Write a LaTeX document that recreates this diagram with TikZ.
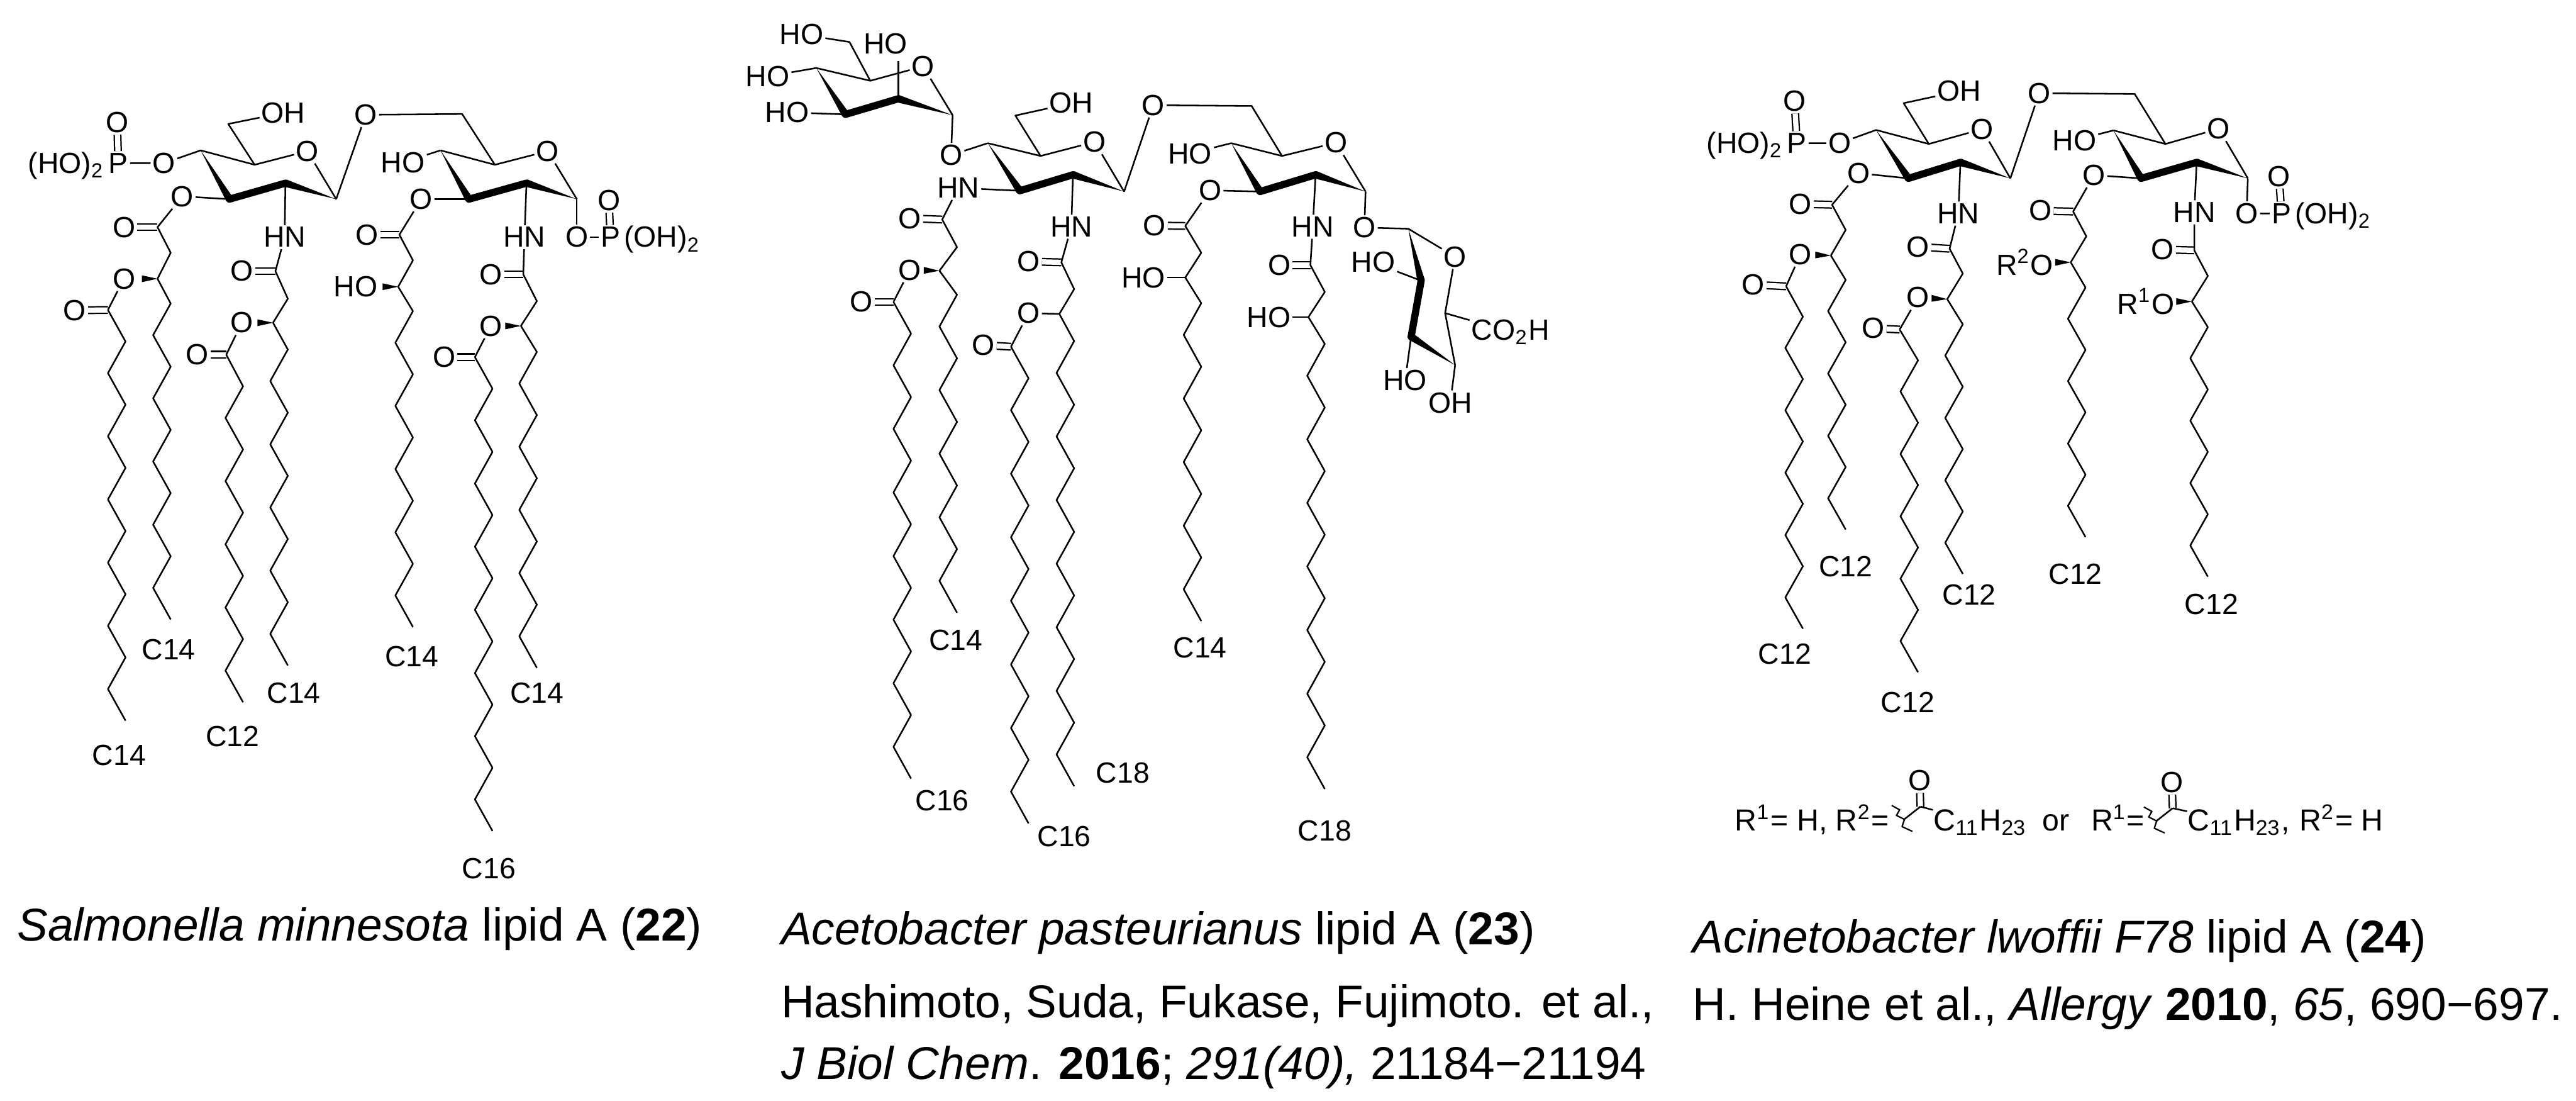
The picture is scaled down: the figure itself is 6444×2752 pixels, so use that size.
\documentclass[tikz,border=0pt]{standalone}
\usepackage{fontspec}
\setmainfont{Liberation Sans}
\usetikzlibrary{calc}

\tikzset{
  atom/.style={inner sep=0.3pt,font=\fontsize{7.3}{8}\selectfont},
  formula/.style={inner sep=0pt,anchor=base west,font=\fontsize{7.6}{8}\selectfont},
  caption/.style={inner sep=0pt,anchor=base west,font=\fontsize{11.5}{13}\selectfont},
  dbond/.style={double,double distance=1.3pt,line width=0.35pt},
  boldbond/.style={line width=1.8pt,line cap=round}
}

% wedge, thin at #1 and wide at #2
\newcommand{\wedgebond}[2]{\fill (#1) -- ($(#2)!0.95pt!90:(#1)$) -- ($(#2)!0.95pt!-90:(#1)$) -- cycle;}
% short stereo wedge from carbon #1 towards label #2
\newcommand{\stereobond}[2]{\fill (#1) -- ($(#1)!3.9pt!(#2)+(0,0.85pt)$) -- ($(#1)!3.9pt!(#2)+(0,-0.85pt)$) -- cycle;}
% ring: prefix, c4, c5, ring O, c1, c2, c3
\newcommand{\sugar}[7]{
  \coordinate (#1c4) at (#2);
  \coordinate (#1c5) at (#3);
  \node[atom] (#1o) at (#4) {O};
  \coordinate (#1c1) at (#5);
  \coordinate (#1c2) at (#6);
  \coordinate (#1c3) at (#7);
  \draw (#1c4) -- (#1c5) -- (#1o);
  \draw (#1o) -- (#1c1);
  \wedgebond{#1c4}{#1c3}
  \draw[boldbond] (#1c3) -- (#1c2);
  \wedgebond{#1c1}{#1c2}
}
% acyl head: name, carbonyl C, =O, next C, branch C; #6 is what it hangs on
\newcommand{\acyl}[6]{
  \coordinate (#1c) at (#2);
  \node[atom] (#1o) at (#3) {O};
  \coordinate (#1n) at (#4);
  \coordinate (#1s) at (#5);
  \draw[dbond] (#1c) -- (#1o);
  \draw (#6) -- (#1c) -- (#1n) -- (#1s);
}
% ester head: name, carbonyl C, =O; #4 is the O it hangs on
\newcommand{\ester}[4]{
  \coordinate (#1c) at (#2);
  \node[atom] (#1o) at (#3) {O};
  \draw[dbond] (#1c) -- (#1o);
  \draw (#4) -- (#1c);
}
% zigzag tail: [step], from, first x, first y, n
\newcommand{\lipchain}[5][79]{
  \draw (#2) -- (#3,#4) \foreach \k in {1,...,#5} { -- ({#3-44*mod(\k,2)},{#4+#1*\k}) };
}
% O=C with wavy bond: name, x, y
\newcommand{\acylR}[3]{
  \coordinate (#1c) at (#2,#3);
  \node[atom] (#1o) at ({#2-2},{#3-65}) {O};
  \draw[dbond] (#1c) -- (#1o);
  \coordinate (#1w) at ({#2-42},{#3+33});
  \draw (#1w) -- (#1c);
  \draw[line width=0.35pt] ({#2-72},{#3-3}) -- ({#2-52},{#3+8}) -- ({#2-60},{#3+22}) -- ({#2-40},{#3+32}) -- ({#2-46},{#3+50}) -- ({#2-20},{#3+62});
}

\begin{document}
\begin{tikzpicture}[x=0.1pt,y=0.1pt,yscale=-1,line width=0.4pt,line join=round]
\useasboundingbox (0,0) rectangle (6444,2752);

% Salmonella
\sugar{salA}{502,376}{637,412}{769,378}{841,498}{714,458}{574,498}
\sugar{salB}{1102,376}{1238,412}{1370,378}{1443,498}{1317,458}{1173,498}
\node[atom] (salP) at (296,408) {P};
\node[atom,anchor=base east] (salPh) at (salP.base west) {(HO)\textsubscript{2}};
\node[atom] (salPo) at (293,306) {O};
\node[atom] (salPe) at (410,408) {O};
\draw[dbond] (salP) -- (salPo);
\draw (salP) -- (salPe) -- (salAc4);
\coordinate (salAch) at (571,310);
\node[atom] (salAoh) at (709,282) {OH};
\draw (salAc5) -- (salAch) -- (salAoh);
\node[atom] (salL) at (915,287) {O};
\coordinate (salBch) at (1156,285);
\draw (salAc1) -- (salL) -- (salBch) -- (salBc5);
\node[atom] (salBho) at (1008,406) {HO};
\draw (salBho) -- (salBc4);
\node[atom] (salO1) at (456,491) {O};
\draw (salAc3) -- (salO1);
\acyl{salC1}{394,568}{310,568}{427,632}{394,697}{salO1}
\node[atom] (salO2) at (310,697) {O};
\stereobond{salC1s}{salO2}
\ester{salE1}{270,775}{187,776}{salO2}
\lipchain{salE1c}{314}{854}{12}
\lipchain{salC1s}{427}{759}{10}
\node[atom] (salN1) at (712,593) {HN};
\draw (salAc2) -- (salN1);
\acyl{salC2}{689,678}{605,678}{720,747}{683,807}{salN1}
\node[atom] (salO3) at (605,807) {O};
\stereobond{salC2s}{salO3}
\ester{salE2}{566,887}{494,887}{salO3}
\lipchain{salE2c}{608}{966}{10}
\lipchain{salC2s}{720}{874}{10}
\node[atom] (salO4) at (1054,498) {O};
\draw (salBc3) -- (salO4);
\acyl{salC3}{999,587}{918,587}{1033,651}{996,717}{salO4}
\node[atom] (salOh3) at (890,717) {HO};
\stereobond{salC3s}{salOh3}
\lipchain{salC3s}{1033}{778}{10}
\node[atom] (salN2) at (1312,593) {HN};
\draw (salBc2) -- (salN2);
\acyl{salC4}{1309,686}{1228,686}{1343,753}{1303,815}{salN2}
\node[atom] (salO5) at (1228,815) {O};
\stereobond{salC4s}{salO5}
\ester{salE4}{1188,893}{1111,893}{salO5}
\lipchain{salE4c}{1232}{972}{14}
\lipchain{salC4s}{1343}{880}{10}
\node[atom] (salO6) at (1443,593) {O};
\node[atom] (salQ) at (1527,593) {P};
\node[atom,anchor=base west] (salQh) at (salQ.base east) {(OH)\textsubscript{2}};
\node[atom] (salQo) at (1523,501) {O};
\draw (salBc1) -- (salO6) -- (salQ);
\draw[dbond] (salQ) -- (salQo);
\node[atom] at (422,1624) {C14};
\node[atom] at (735,1733) {C14};
\node[atom] at (582,1841) {C12};
\node[atom] at (298,1888) {C14};
\node[atom] at (1030,1642) {C14};
\node[atom] at (1343,1733) {C14};
\node[atom] at (1223,2172) {C16};
\node[caption] (capA) at (41,2352) {\textit{Salmonella minnesota} lipid A (\textbf{22})};

% Acetobacter
\sugar{aceM}{2042,170}{2177,202}{2309,166}{2383,288}{2247,247}{2115,286}
\sugar{aceA}{2471,358}{2603,390}{2738,355}{2812,479}{2684,437}{2551,477}
\sugar{aceB}{3080,358}{3207,390}{3342,357}{3416,479}{3291,437}{3152,479}
\node[atom] (aceMh1) at (2005,86) {HO};
\coordinate (aceMch) at (2125,105);
\draw (aceMh1) -- (aceMch) -- (aceMc5);
\node[atom] (aceMh2) at (1920,191) {HO};
\draw (aceMh2) -- (aceMc4);
\node[atom] (aceMh3) at (1969,281) {HO};
\draw (aceMh3) -- (aceMc3);
\node[atom] (aceMh4) at (2215,109) {HO};
\coordinate (aceMup) at (2247,152);
\draw (aceMc2) -- (aceMup);
\node[atom] (aceL1) at (2379,388) {O};
\draw (aceMc1) -- (aceL1) -- (aceAc4);
\coordinate (aceAch) at (2540,289);
\node[atom] (aceAoh) at (2680,258) {OH};
\draw (aceAc5) -- (aceAch) -- (aceAoh);
\node[atom] (aceL2) at (2885,263) {O};
\coordinate (aceBch) at (3131,265);
\draw (aceAc1) -- (aceL2) -- (aceBch) -- (aceBc5);
\node[atom] (aceBho) at (2977,384) {HO};
\draw (aceBho) -- (aceBc4);
\node[atom] (aceN1) at (2397,470) {HN};
\draw (aceAc3) -- (aceN1);
\acyl{aceC1}{2357,549}{2276,546}{2394,618}{2350,677}{aceN1}
\node[atom] (aceO2) at (2276,675) {O};
\stereobond{aceC1s}{aceO2}
\ester{aceE1}{2235,755}{2155,755}{aceO2}
\lipchain[79.5]{aceE1c}{2279}{834}{14}
\lipchain[79.5]{aceC1s}{2394}{737}{10}
\node[atom] (aceN2) at (2680,567) {HN};
\draw (aceAc2) -- (aceN2);
\acyl{aceC2}{2655,656}{2573,654}{2687,723}{2650,785}{aceN2}
\node[atom] (aceO3) at (2573,783) {O};
\draw (aceC2s) -- (aceO3);
\ester{aceE2}{2529,867}{2460,863}{aceO3}
\lipchain[79.5]{aceE2c}{2573}{946}{14}
\lipchain[79.5]{aceC2s}{2687}{853}{14}
\node[atom] (aceO4) at (3027,476) {O};
\draw (aceBc3) -- (aceO4);
\acyl{aceC3}{2965,565}{2888,564}{3005,632}{2965,694}{aceO4}
\node[atom] (aceOh3) at (2860,694) {HO};
\draw (aceC3s) -- (aceOh3);
\lipchain[79.5]{aceC3s}{3005}{758}{10}
\node[atom] (aceN3) at (3284,567) {HN};
\draw (aceBc2) -- (aceN3);
\acyl{aceC4}{3278,663}{3200,663}{3314,730}{3273,793}{aceN3}
\node[atom] (aceOh4) at (3174,793) {HO};
\draw (aceC4s) -- (aceOh4);
\lipchain[79.5]{aceC4s}{3314}{860}{14}
% Kdo ring
\node[atom] (aceO6) at (3413,569) {O};
\coordinate (kdoa) at (3523,572);
\coordinate (kdob) at (3555,702);
\coordinate (kdoc) at (3530,842);
\coordinate (kdod) at (3640,913);
\coordinate (kdoe) at (3615,783);
\node[atom] (kdoo) at (3640,642) {O};
\draw (aceBc1) -- (aceO6) -- (kdoa) -- (kdoo) -- (kdoe) -- (kdod);
\wedgebond{kdoa}{kdob}
\draw[boldbond] (kdob) -- (kdoc);
\wedgebond{kdod}{kdoc}
\node[atom] (kdoh1) at (3435,656) {HO};
\draw (kdoh1) -- (kdob);
\node[atom] (kdoh2) at (3515,951) {HO};
\draw (kdoc) -- (kdoh2);
\node[atom] (kdoh3) at (3628,1007) {OH};
\draw (kdod) -- (kdoh3);
\node[atom] (kdoco) at (3779,830) {CO\textsubscript{2}H};
\draw (kdoe) -- (kdoco);
\node[atom] at (2391,1600) {C14};
\node[atom] at (3002,1620) {C14};
\node[atom] at (2809,1933) {C18};
\node[atom] at (2357,2002) {C16};
\node[atom] at (2662,2092) {C16};
\node[atom] at (3314,2077) {C18};
\node[caption] (capB) at (1952,2362) {\textit{Acetobacter pasteurianus} lipid A (\textbf{23})};
\node[caption] (capBa) at (1952,2545) {Hashimoto, Suda, Fukase, Fujimoto. et al.,};
\node[caption] (capBb) at (1952,2699) {\textit{J Biol Chem}. \textbf{2016}; \textit{291(40),} 21184−21194};

% Acinetobacter
\sugar{acnA}{4693,325}{4825,360}{4958,323}{5029,446}{4904,406}{4774,446}
\sugar{acnB}{5287,326}{5417,360}{5550,322}{5623,446}{5495,406}{5356,446}
\node[atom] (acnP) at (4495,358) {P};
\node[atom,anchor=base east] (acnPh) at (acnP.base west) {(HO)\textsubscript{2}};
\node[atom] (acnPo) at (4489,253) {O};
\node[atom] (acnPe) at (4602,358) {O};
\draw[dbond] (acnP) -- (acnPo);
\draw (acnP) -- (acnPe) -- (acnAc4);
\coordinate (acnAch) at (4762,258);
\node[atom] (acnAoh) at (4901,228) {OH};
\draw (acnAc5) -- (acnAch) -- (acnAoh);
\node[atom] (acnL) at (5101,233) {O};
\coordinate (acnBch) at (5340,235);
\draw (acnAc1) -- (acnL) -- (acnBch) -- (acnBc5);
\node[atom] (acnBho) at (5189,351) {HO};
\draw (acnBho) -- (acnBc4);
\node[atom] (acnO1) at (4649,433) {O};
\draw (acnAc3) -- (acnO1);
\acyl{acnC1}{4583,512}{4504,510}{4617,575}{4580,639}{acnO1}
\node[atom] (acnO2) at (4504,636) {O};
\stereobond{acnC1s}{acnO2}
\ester{acnE1}{4468,716}{4386,712}{acnO2}
\lipchain[78]{acnE1c}{4510}{792}{10}
\lipchain[78]{acnC1s}{4617}{700}{8}
\node[atom] (acnN1) at (4899,534) {HN};
\draw (acnAc2) -- (acnN1);
\acyl{acnC2}{4877,622}{4798,617}{4910,684}{4871,748}{acnN1}
\node[atom] (acnO3) at (4798,744) {O};
\stereobond{acnC2s}{acnO3}
\ester{acnE2}{4752,824}{4686,821}{acnO3}
\lipchain[78]{acnE2c}{4798}{901}{10}
\lipchain[78]{acnC2s}{4910}{811}{8}
\node[atom] (acnO4) at (5238,438) {O};
\draw (acnBc3) -- (acnO4);
\acyl{acnC3}{5186,529}{5104,527}{5219,591}{5180,656}{acnO4}
\node[atom] (acnR2) at (5065,656) {R\textsuperscript{2}O};
\stereobond{acnC3s}{acnR2}
\lipchain[78]{acnC3s}{5217}{719}{8}
\node[atom] (acnN2) at (5489,531) {HN};
\draw (acnBc2) -- (acnN2);
\acyl{acnC4}{5489,626}{5410,624}{5523,690}{5483,754}{acnN2}
\node[atom] (acnR1) at (5368,754) {R\textsuperscript{1}O};
\stereobond{acnC4s}{acnR1}
\lipchain[78]{acnC4s}{5523}{818}{8}
\node[atom] (acnO6) at (5620,534) {O};
\node[atom] (acnQ) at (5707,534) {P};
\node[atom,anchor=base west] (acnQh) at (acnQ.base east) {(OH)\textsubscript{2}};
\node[atom] (acnQo) at (5701,441) {O};
\draw (acnBc1) -- (acnO6) -- (acnQ);
\draw[dbond] (acnQ) -- (acnQo);
\node[atom] at (4617,1417) {C12};
\node[atom] at (4926,1488) {C12};
\node[atom] at (5192,1435) {C12};
\node[atom] at (5532,1511) {C12};
\node[atom] at (4465,1635) {C12};
\node[atom] at (4772,1757) {C12};
% R groups
\node[formula] (frmA) at (4338,2078) {R\textsuperscript{1}= H, R\textsuperscript{2}=};
\acylR{frmB}{4804}{2017}
\node[formula] (frmC) at (4835,2078) {C\textsubscript{11}H\textsubscript{23}};
\draw (frmBc) -- (frmC);
\node[formula] (frmD) at (5107,2078) {or};
\node[formula] (frmE) at (5229,2078) {R\textsuperscript{1}=};
\acylR{frmF}{5435}{2021}
\node[formula] (frmG) at (5471,2078) {C\textsubscript{11}H\textsubscript{23},};
\draw (frmFc) -- (frmG);
\node[formula] (frmH) at (5750,2078) {R\textsuperscript{2}= H};
\node[caption] (capC) at (4233,2383) {\textit{Acinetobacter lwoffii F78} lipid A (\textbf{24})};
\node[caption] (capCa) at (4233,2551) {H. Heine et al., \textit{Allergy} \textbf{2010}, \textit{65}, 690−697.};
\end{tikzpicture}
\end{document}
